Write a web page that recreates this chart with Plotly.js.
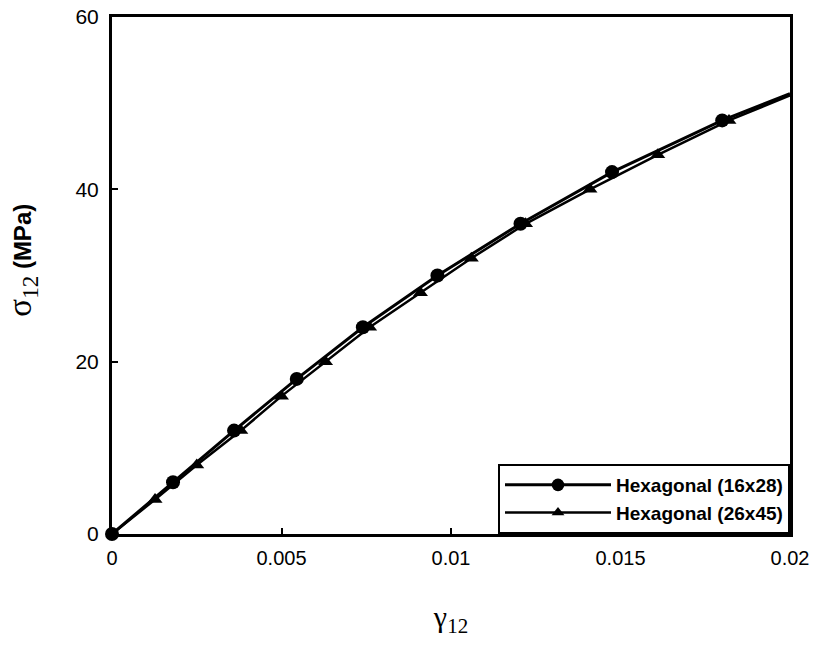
<!DOCTYPE html>
<html>
<head>
<meta charset="utf-8">
<script src="https://cdn.plot.ly/plotly-3.0.1.min.js"></script>
<style>body{margin:0;background:#fff}#chart{width:815px;height:646px}</style>
</head>
<body>
<div id="chart"></div>
<script>
// Hexagonal (16x28) - circles
const strainA = [0, 0.0018, 0.0036, 0.00545, 0.0074, 0.0096, 0.01205, 0.01475, 0.0180, 0.0200];
const stressA = [0, 6, 12, 18, 24, 30, 36, 42, 48, 51.1];
// Hexagonal (26x45) - triangles
const strainB = [0, 0.00127, 0.0025, 0.0038, 0.0050, 0.0063, 0.0076, 0.0091, 0.0106, 0.0122, 0.0141, 0.0161, 0.0182, 0.0200];
const stressB = [0, 4, 8, 12, 16, 20, 24, 28, 32, 36, 40, 44, 48, 50.9];
const seriesNames = ["Hexagonal (16x28)", "Hexagonal (26x45)"];
const xTicks = [0, 0.005, 0.01, 0.015, 0.02];
const xTickText = ["0", "0.005", "0.01", "0.015", "0.02"];
const yTicks = [0, 20, 40, 60];

const sizesA = strainA.map((v, i) => i === strainA.length - 1 ? 0 : 14);
const sizesB = strainB.map((v, i) => i === strainB.length - 1 || i === 0 ? 0 : 13);

const traces = [
  {x: strainA, y: stressA, name: seriesNames[0], mode: "lines+markers",
   line: {color: "#000", width: 3}, marker: {symbol: "circle", size: sizesA, color: "#000", opacity: 1, line: {color: "#000", width: 0}}, cliponaxis: false},
  {x: strainB, y: stressB, name: seriesNames[1], mode: "lines+markers",
   line: {color: "#000", width: 2.5}, marker: {symbol: "triangle-up", size: sizesB, color: "#000", opacity: 1, line: {color: "#000", width: 0}}, cliponaxis: false}
];

const layout = {
  width: 815, height: 646,
  margin: {l: 112, r: 25, t: 17, b: 112},
  paper_bgcolor: "#fff", plot_bgcolor: "#fff",
  font: {family: "Liberation Sans, Arial, sans-serif", color: "#000", size: 20},
  showlegend: true,
  legend: {x: 1, xanchor: "right", y: 0, yanchor: "bottom",
    bordercolor: "#000", borderwidth: 2, bgcolor: "#fff",
    font: {family: "Liberation Sans, Arial", size: 19, color: "#000", weight: "bold"},
    tracegroupgap: 0, itemwidth: 106},
  xaxis: {range: [0, 0.02], tickvals: xTicks, ticktext: xTickText,
    ticks: "inside", ticklen: 6, tickwidth: 2, tickcolor: "#000",
    showline: true, linewidth: 3, linecolor: "#000", mirror: true,
    showgrid: false, zeroline: false,
    tickfont: {size: 20}, ticklabelstandoff: 4,
    title: {text: "γ<sub>12</sub>", font: {family: "Liberation Serif, Times New Roman, serif", size: 30}, standoff: 38}},
  yaxis: {range: [0, 60], tickvals: yTicks,
    ticks: "inside", ticklen: 6, tickwidth: 2, tickcolor: "#000",
    showline: true, linewidth: 3, linecolor: "#000", mirror: true,
    showgrid: false, zeroline: false,
    tickfont: {size: 21}, ticklabelstandoff: 6,
    title: {text: "<span style='font-family:Liberation Sans, Arial;font-size:22px'>&nbsp;&nbsp;&nbsp;&nbsp;&nbsp;</span>σ<sub>12</sub><span style='font-family:Liberation Sans, Arial;font-size:24px;font-weight:bold'> (MPa)</span>",
      font: {family: "Liberation Serif, Times New Roman, serif", size: 33}, standoff: 34}}
};

Plotly.newPlot("chart", traces, layout, {displayModeBar: false, staticPlot: true});
</script>
</body>
</html>
